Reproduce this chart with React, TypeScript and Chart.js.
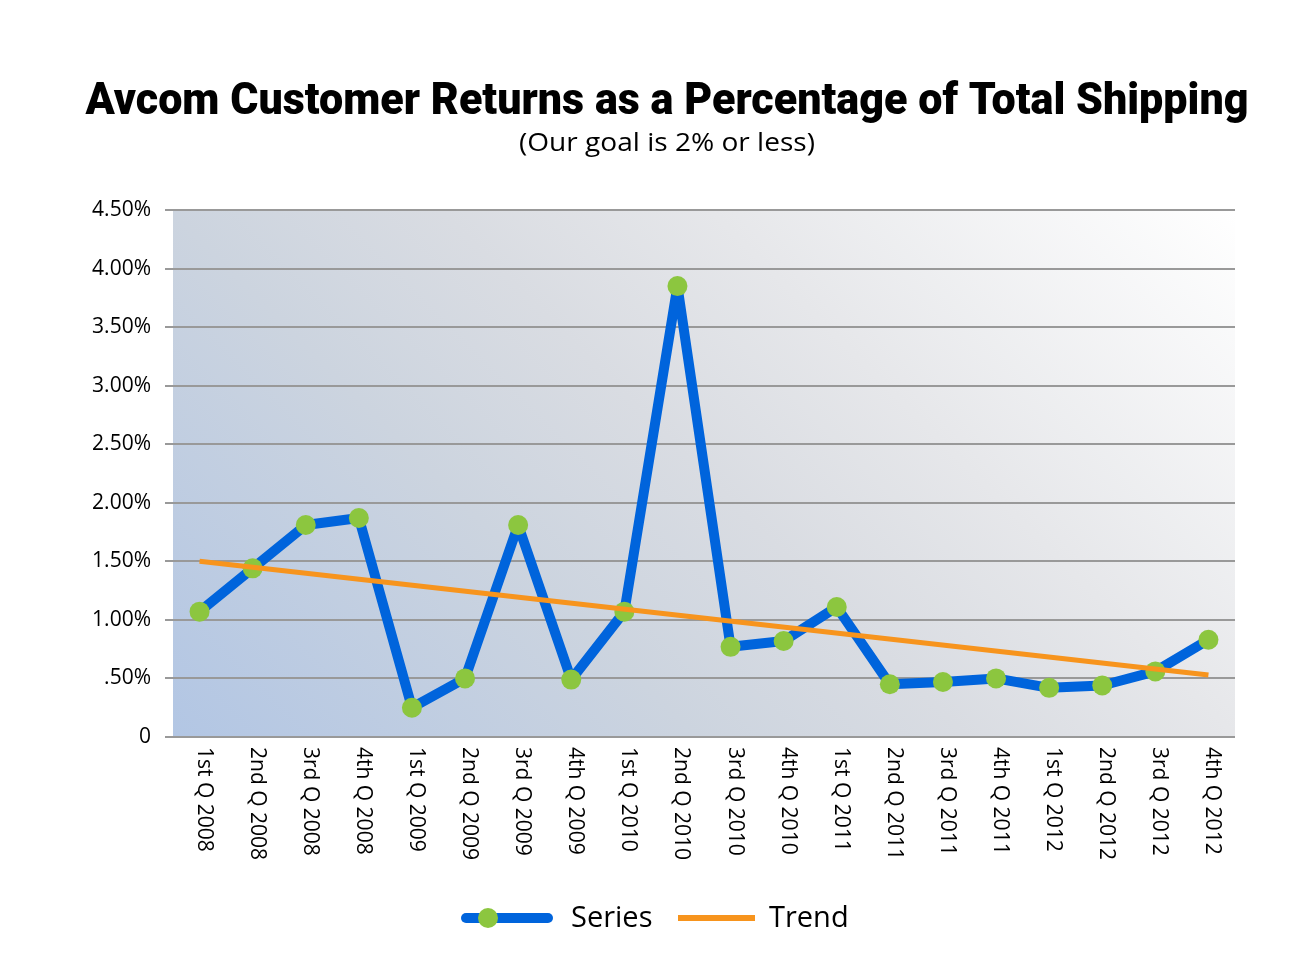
import React, { useEffect, useRef } from "react";
import { Chart, registerables } from "chart.js";

Chart.register(...registerables);

const categories = [
  "1st Q 2008", "2nd Q 2008", "3rd Q 2008", "4th Q 2008",
  "1st Q 2009", "2nd Q 2009", "3rd Q 2009", "4th Q 2009",
  "1st Q 2010", "2nd Q 2010", "3rd Q 2010", "4th Q 2010",
  "1st Q 2011", "2nd Q 2011", "3rd Q 2011", "4th Q 2011",
  "1st Q 2012", "2nd Q 2012", "3rd Q 2012", "4th Q 2012",
];

const seriesValues = [
  1.07, 1.44, 1.81, 1.87,
  0.25, 0.50, 1.81, 0.49,
  1.07, 3.85, 0.77, 0.82,
  1.11, 0.45, 0.47, 0.50,
  0.42, 0.44, 0.56, 0.83,
];

const trendValues: (number | null)[] = [
  1.50, null, null, null, null, null, null, null, null, null,
  null, null, null, null, null, null, null, null, null, 0.53,
];

const yTickValues = [0, 0.5, 1, 1.5, 2, 2.5, 3, 3.5, 4, 4.5];
const yTickLabels = ["0", ".50%", "1.00%", "1.50%", "2.00%", "2.50%", "3.00%", "3.50%", "4.00%", "4.50%"];

const titleText = "Avcom Customer Returns as a Percentage of Total Shipping";
const subtitleText = "(Our goal is 2% or less)";

const BLUE = "#0064dc";
const GREEN = "#8cc63f";
const ORANGE = "#f7941d";

function fitText(ctx: CanvasRenderingContext2D, text: string, cx: number, y: number, font: string, targetW: number) {
  ctx.save();
  ctx.font = font;
  const w = ctx.measureText(text).width;
  const s = targetW / w;
  ctx.translate(cx, y);
  ctx.scale(s, 1);
  ctx.textAlign = "center";
  ctx.textBaseline = "alphabetic";
  ctx.fillStyle = "#000";
  ctx.fillText(text, 0, 0);
  ctx.restore();
}

const decorPlugin = {
  id: "decor",
  beforeDraw(chart: any) {
    const { ctx, chartArea: a } = chart;
    ctx.save();
    const w = a.right - a.left;
    const h = a.bottom - a.top;
    const d = (w + h) / 2;
    const g = ctx.createLinearGradient(a.left, a.bottom, a.left + d, a.bottom - d);
    g.addColorStop(0, "#b2c6e4");
    g.addColorStop(0.33, "#ccd4df");
    g.addColorStop(0.5, "#d9dce2");
    g.addColorStop(0.67, "#e6e7ea");
    g.addColorStop(1, "#ffffff");
    ctx.fillStyle = g;
    ctx.fillRect(a.left, a.top, w, h);
    ctx.restore();
  },
  afterDraw(chart: any) {
    const { ctx } = chart;
    fitText(ctx, titleText, 667, 114, '900 44px Roboto, "Open Sans", sans-serif', 1163);
    fitText(ctx, subtitleText, 667, 151, '26px "Open Sans", sans-serif', 296);

    const xs = chart.scales.x;
    ctx.save();
    ctx.font = '21px "Open Sans", sans-serif';
    ctx.fillStyle = "#000";
    ctx.textAlign = "left";
    ctx.textBaseline = "middle";
    categories.forEach((c, i) => {
      const x = xs.getPixelForValue(i) + 4;
      ctx.save();
      ctx.translate(x, 747);
      ctx.rotate(Math.PI / 2);
      ctx.fillText(c, 0, 0);
      ctx.restore();
    });
    ctx.restore();

    const ly = 918;
    const ds = chart.data.datasets;
    ctx.save();
    ctx.lineCap = "round";
    ctx.strokeStyle = ds[0].borderColor;
    ctx.lineWidth = 10;
    ctx.beginPath();
    ctx.moveTo(466, ly);
    ctx.lineTo(548, ly);
    ctx.stroke();
    ctx.fillStyle = ds[0].pointBackgroundColor;
    ctx.beginPath();
    ctx.arc(488, ly, 10, 0, Math.PI * 2);
    ctx.fill();
    ctx.lineCap = "butt";
    ctx.strokeStyle = ds[1].borderColor;
    ctx.lineWidth = 6;
    ctx.beginPath();
    ctx.moveTo(678, ly);
    ctx.lineTo(755, ly);
    ctx.stroke();
    ctx.fillStyle = "#000";
    ctx.font = '29px "Open Sans", sans-serif';
    ctx.textAlign = "left";
    ctx.textBaseline = "middle";
    ctx.fillText(ds[0].label, 571, ly + 1);
    ctx.fillText(ds[1].label, 769, ly + 1);
    ctx.restore();
  },
};

export default function App() {
  const ref = useRef<HTMLCanvasElement | null>(null);
  useEffect(() => {
    if (!ref.current) return;
    const chart = new Chart(ref.current, {
      type: "line",
      data: {
        labels: categories,
        datasets: [
          {
            label: "Series",
            data: seriesValues,
            borderColor: BLUE,
            borderWidth: 10,
            borderJoinStyle: "bevel",
            pointBackgroundColor: GREEN,
            pointBorderColor: GREEN,
            pointBorderWidth: 0,
            pointRadius: 10,
            tension: 0,
            order: 1,
          },
          {
            label: "Trend",
            data: trendValues,
            borderColor: ORANGE,
            borderWidth: 5,
            pointRadius: 0,
            spanGaps: true,
            tension: 0,
            order: 0,
          },
        ],
      },
      options: {
        responsive: false,
        animation: false,
        layout: { padding: { top: 210, left: 0, right: 78, bottom: 0 } },
        plugins: {
          legend: { display: false },
          title: { display: false },
          tooltip: { enabled: false },
        },
        scales: {
          x: {
            offset: true,
            grid: { display: false },
            border: { display: false },
            ticks: { display: false },
            afterFit: (s: any) => { s.height = 238; },
          },
          y: {
            min: 0,
            max: 4.5,
            afterBuildTicks: (s: any) => { s.ticks = yTickValues.map((v) => ({ value: v })); },
            grid: { color: "#999999", lineWidth: 2, tickLength: 8, drawTicks: true },
            border: { display: false },
            ticks: {
              padding: 14,
              color: "#000",
              font: { family: '"Open Sans", sans-serif', size: 21 },
              callback: (v: any) => {
                const i = yTickValues.indexOf(Number(v));
                return i >= 0 ? yTickLabels[i] : "";
              },
            },
            afterFit: (s: any) => { s.width = 173; },
          },
        },
      },
      plugins: [decorPlugin],
    } as any);
    return () => chart.destroy();
  }, []);
  return (
    <div style={{ position: "absolute", left: 0, top: 0, width: 1313, height: 975, background: "#fff" }}>
      <canvas ref={ref} width={1313} height={975} />
    </div>
  );
}
